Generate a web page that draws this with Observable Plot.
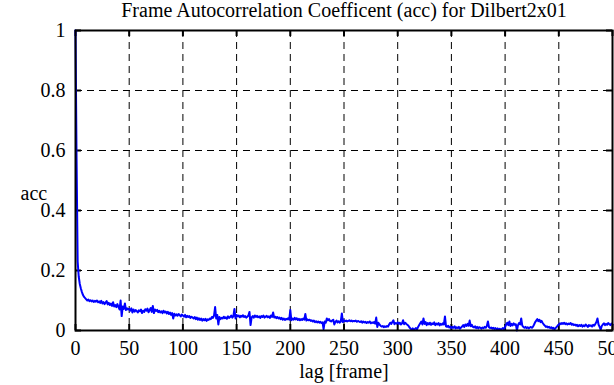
<!DOCTYPE html>
<html><head><meta charset="utf-8">
<script src="https://cdn.jsdelivr.net/npm/d3@7"></script>
<script src="https://cdn.jsdelivr.net/npm/@observablehq/plot@0.6"></script>
<style>
html,body{margin:0;padding:0;background:#fff;overflow:hidden}
</style>
</head><body><div id="chart"></div>
<script>
const title = "Frame Autocorrelation Coefficent (acc) for Dilbert2x01";
const xLabel = "lag [frame]";
const yLabel = "acc";
const xTicks = [0, 50, 100, 150, 200, 250, 300, 350, 400, 450, 500];
const yTicks = [0, 0.2, 0.4, 0.6, 0.8, 1];
// acc value for lag = index (0..500)
const acc = [
1.0,0.57,0.23,0.18,0.155,0.14,0.128,0.118,0.112,0.108,
0.104,0.1,0.103,0.098,0.101,0.097,0.1,0.095,0.099,0.096,
0.1,0.094,0.097,0.092,0.099,0.09,0.095,0.088,0.093,0.098,
0.087,0.092,0.085,0.09,0.082,0.094,0.08,0.085,0.078,0.088,
0.079,0.07,0.1,0.048,0.08,0.072,0.09,0.068,0.074,0.07,
0.072,0.066,0.074,0.06,0.07,0.063,0.068,0.065,0.06,0.067,
0.064,0.07,0.058,0.066,0.062,0.071,0.066,0.073,0.061,0.068,
0.075,0.062,0.082,0.058,0.07,0.065,0.069,0.061,0.066,0.06,
0.064,0.058,0.066,0.06,0.063,0.057,0.062,0.055,0.06,0.052,
0.058,0.04,0.056,0.05,0.054,0.049,0.055,0.051,0.047,0.053,
0.05,0.046,0.052,0.044,0.049,0.045,0.048,0.042,0.046,0.043,
0.04,0.045,0.038,0.043,0.036,0.041,0.035,0.04,0.033,0.038,
0.034,0.039,0.032,0.037,0.035,0.04,0.038,0.045,0.042,0.05,
0.078,0.04,0.052,0.02,0.045,0.038,0.042,0.04,0.046,0.041,
0.044,0.039,0.047,0.042,0.045,0.05,0.043,0.048,0.072,0.04,
0.052,0.047,0.05,0.044,0.049,0.046,0.051,0.045,0.048,0.043,
0.046,0.05,0.062,0.018,0.044,0.048,0.043,0.05,0.045,0.049,
0.044,0.047,0.042,0.048,0.045,0.05,0.043,0.046,0.049,0.044,
0.047,0.042,0.05,0.045,0.06,0.043,0.046,0.041,0.045,0.04,
0.043,0.038,0.042,0.036,0.04,0.035,0.039,0.037,0.041,0.036,
0.068,0.034,0.04,0.036,0.042,0.037,0.041,0.035,0.039,0.034,
0.038,0.035,0.04,0.036,0.055,0.033,0.037,0.034,0.036,0.032,
0.034,0.03,0.033,0.028,0.031,0.027,0.03,0.026,0.029,0.025,
0.027,0.005,0.03,0.026,0.04,0.034,0.038,0.032,0.03,0.033,
0.036,0.02,0.029,0.033,0.027,0.031,0.026,0.03,0.057,0.028,
0.034,0.031,0.033,0.03,0.032,0.034,0.031,0.033,0.03,0.032,
0.031,0.033,0.029,0.032,0.03,0.028,0.031,0.026,0.03,0.027,
0.029,0.025,0.028,0.026,0.03,0.024,0.027,0.025,0.028,0.023,
0.043,0.012,0.026,0.02,0.016,0.013,0.015,0.011,0.014,0.012,
0.015,0.013,0.02,0.026,0.022,0.028,0.034,0.021,0.025,0.023,
0.027,0.022,0.026,0.02,0.024,0.034,0.021,0.026,0.022,0.019,
0.016,0.01,0.006,0.003,0.007,0.002,0.005,0.008,0.004,0.012,
0.018,0.024,0.03,0.02,0.04,0.022,0.028,0.018,0.025,0.02,
0.026,0.019,0.024,0.021,0.027,0.018,0.023,0.02,0.025,0.017,
0.022,0.019,0.024,0.02,0.047,0.014,0.012,0.016,0.01,0.013,
0.008,0.012,0.009,0.014,0.007,0.011,0.008,0.012,0.006,0.01,
0.013,0.018,0.012,0.02,0.015,0.022,0.016,0.033,0.014,0.019,
0.012,0.01,0.014,0.008,0.012,0.007,0.011,0.009,0.006,0.01,
0.008,0.012,0.009,0.015,0.03,0.011,0.008,0.01,0.006,0.009,
0.005,0.008,0.004,0.007,0.003,0.006,0.002,0.005,0.008,0.004,
0.012,0.02,0.026,0.018,0.03,0.015,0.022,0.017,0.024,0.019,
0.021,0.0,0.018,0.025,0.02,0.04,0.016,0.012,0.009,0.012,
0.008,0.011,0.007,0.01,0.012,0.009,0.013,0.02,0.028,0.033,
0.038,0.031,0.036,0.028,0.032,0.025,0.02,0.016,0.012,0.014,
0.01,0.012,0.008,0.011,0.006,0.009,0.004,0.008,0.012,0.016,
0.02,0.024,0.021,0.025,0.022,0.026,0.021,0.024,0.02,0.023,
0.021,0.025,0.019,0.022,0.018,0.02,0.016,0.019,0.014,0.018,
0.015,0.019,0.013,0.017,0.014,0.02,0.016,0.012,0.018,0.015,
0.017,0.013,0.019,0.016,0.022,0.028,0.04,0.02,0.012,0.003,
0.015,0.02,0.024,0.018,0.022,0.019,0.025,0.021,0.018,0.023,
0.02
];
const data = acc.map((v, i) => ({lag: i, acc: v}));
const textFont = "Liberation Serif";
const W = 614, H = 385, ML = 75, MR = 2, MT = 30, MB = 55;
const frameW = W - ML - MR, frameH = H - MT - MB, tick = 6;
const dash = "7,5";
const chart = Plot.plot({
  width: W, height: H,
  marginLeft: ML, marginRight: MR, marginTop: MT, marginBottom: MB,
  style: {fontFamily: "'Liberation Serif', serif", fontSize: "20px", background: "#fff", color: "#000", overflow: "visible"},
  x: {domain: [0, 500], label: null, axis: null},
  y: {domain: [0, 1], label: null, axis: null},
  marks: [
    Plot.ruleX(xTicks.slice(1, -1), {stroke: "#000", strokeWidth: 1, strokeDasharray: dash}),
    Plot.ruleY(yTicks.slice(1, -1), {stroke: "#000", strokeWidth: 1, strokeDasharray: dash}),
    Plot.tickX(xTicks, {x: d => d, stroke: "#000", strokeWidth: 2, insetTop: frameH - tick}),
    Plot.tickX(xTicks, {x: d => d, stroke: "#000", strokeWidth: 2, insetBottom: frameH - tick}),
    Plot.tickY(yTicks, {y: d => d, stroke: "#000", strokeWidth: 2, insetRight: frameW - tick}),
    Plot.tickY(yTicks, {y: d => d, stroke: "#000", strokeWidth: 2, insetLeft: frameW - tick}),
    Plot.line(data, {x: "lag", y: "acc", stroke: "#0000ff", strokeWidth: 2}),
    Plot.frame({stroke: "#000", strokeWidth: 2}),
    Plot.text(xTicks, {x: d => d, frameAnchor: "bottom", lineAnchor: "middle", dy: 18, text: d => String(d), fontSize: 20, fontFamily: textFont, fill: "#000"}),
    Plot.text(yTicks, {y: d => d, frameAnchor: "left", lineAnchor: "middle", textAnchor: "end", dx: -10, text: d => String(d), fontSize: 20, fontFamily: textFont, fill: "#000"}),
    Plot.text([title], {frameAnchor: "top", dy: -28, fontSize: 20, fontFamily: textFont}),
    Plot.text([xLabel], {frameAnchor: "bottom", dy: 47, fontSize: 20, fontFamily: textFont}),
    Plot.text([yLabel], {frameAnchor: "left", dx: -55, dy: 13, fontSize: 20, fontFamily: textFont})
  ]
});
document.getElementById("chart").appendChild(chart);
</script>
</body></html>
